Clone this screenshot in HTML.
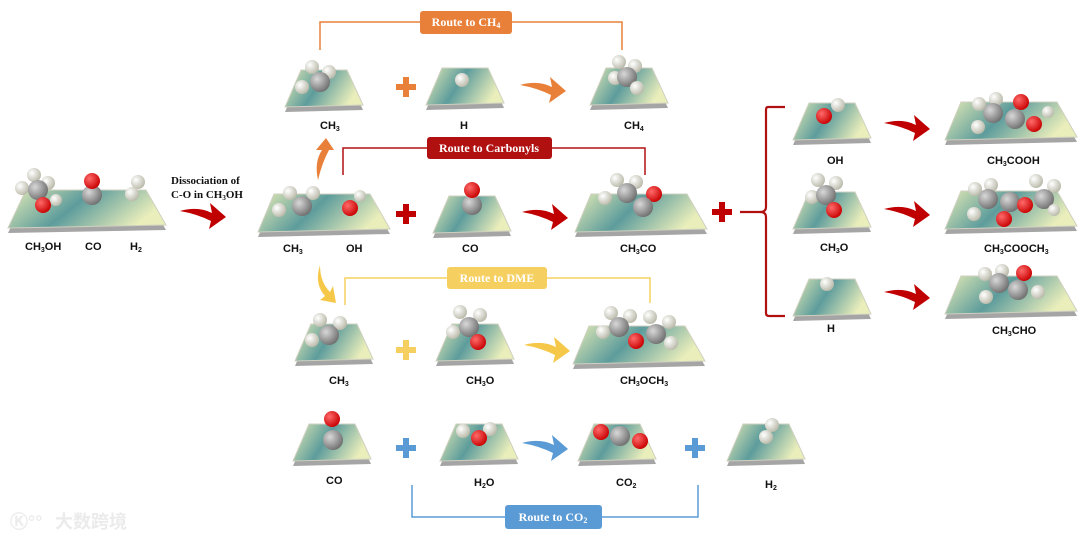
<!DOCTYPE html>
<html><head><meta charset="utf-8">
<style>
html,body{margin:0;padding:0;background:#fff;}
svg{display:block;}
text{font-family:"Liberation Sans",Arial,sans-serif;font-weight:bold;font-size:11px;fill:#111;}
.serif{font-family:"Liberation Serif","Times New Roman",serif;font-weight:bold;fill:#fff;font-size:12px;}
</style></head><body>
<svg width="1080" height="540" viewBox="0 0 1080 540" xmlns="http://www.w3.org/2000/svg">
<defs>
<linearGradient id="sg" x1="0" y1="0" x2="1" y2="0.3">
<stop offset="0" stop-color="#e6ecb6"/><stop offset="0.5" stop-color="#5d9c9c"/><stop offset="1" stop-color="#eaeebb"/>
</linearGradient>
<radialGradient id="gC" cx="0.35" cy="0.35" r="0.7"><stop offset="0" stop-color="#d8d8d8"/><stop offset="1" stop-color="#6e6e6e"/></radialGradient>
<radialGradient id="gH" cx="0.35" cy="0.35" r="0.7"><stop offset="0" stop-color="#ffffff"/><stop offset="1" stop-color="#b8b8a8"/></radialGradient>
<radialGradient id="gO" cx="0.35" cy="0.35" r="0.7"><stop offset="0" stop-color="#ff6a6a"/><stop offset="1" stop-color="#c80000"/></radialGradient>
<g id="ss">
<polygon points="16,5 62,5 78,40 0,42" fill="#a5a5a5"/>
<polygon points="16,0 62,0 78,35 0,37" fill="url(#sg)" stroke="#d0d0c0" stroke-width="1"/>
</g>
<g id="ws">
<polygon points="16,5 112,5 132,40 0,43" fill="#a5a5a5"/>
<polygon points="16,0 112,0 132,35 0,38" fill="url(#sg)" stroke="#d0d0c0" stroke-width="1"/>
</g>
<g id="wl">
<polygon points="18,5 138,5 158,40 0,43" fill="#a5a5a5"/>
<polygon points="18,0 138,0 158,35 0,38" fill="url(#sg)" stroke="#d0d0c0" stroke-width="1"/>
</g>
<path id="ar" d="M0,9 Q18,4 32,11 L30,1 L46,15 L29,27 L31,19 Q17,12 0,9 Z"/>
<path id="pl" d="M-3,-10 H3 V-3 H10 V3 H3 V10 H-3 V3 H-10 V-3 H-3 Z"/>
</defs>

<!-- Left start -->
<use href="#wl" x="8" y="190"/>
<circle cx="22" cy="188" r="7" fill="url(#gH)"/>
<circle cx="34" cy="175" r="7" fill="url(#gH)"/>
<circle cx="48" cy="183" r="7" fill="url(#gH)"/>
<circle cx="38" cy="190" r="10" fill="url(#gC)"/>
<circle cx="43" cy="205" r="8" fill="url(#gO)"/>
<circle cx="56" cy="200" r="6" fill="url(#gH)"/>
<circle cx="92" cy="195" r="10" fill="url(#gC)"/>
<circle cx="92" cy="181" r="8" fill="url(#gO)"/>
<circle cx="138" cy="182" r="7" fill="url(#gH)"/>
<circle cx="132" cy="194" r="7" fill="url(#gH)"/>
<text x="25" y="250">CH<tspan font-size="7" dy="2">3</tspan><tspan dy="-2">OH</tspan></text>
<text x="85" y="250">CO</text>
<text x="130" y="250">H<tspan font-size="7" dy="2">2</tspan></text>
<text class="serif" x="171" y="184" style="fill:#111;font-size:11px">Dissociation of</text>
<text class="serif" x="171" y="198" style="fill:#111;font-size:11px">C-O in CH<tspan font-size="7" dy="2">3</tspan><tspan dy="-2">OH</tspan></text>
<use href="#ar" x="180" y="202" fill="#c00000"/>

<!-- Middle CH3+OH -->
<use href="#ws" x="258" y="194"/>
<circle cx="279" cy="210" r="7" fill="url(#gH)"/>
<circle cx="290" cy="193" r="7" fill="url(#gH)"/>
<circle cx="313" cy="193" r="7" fill="url(#gH)"/>
<circle cx="302" cy="206" r="10" fill="url(#gC)"/>
<circle cx="350" cy="208" r="8" fill="url(#gO)"/>
<circle cx="360" cy="196" r="6" fill="url(#gH)"/>
<text x="283" y="252">CH<tspan font-size="7" dy="2">3</tspan></text>
<text x="346" y="252">OH</text>
<path d="M318,180 Q314,162 322,150 L316,150 L326,138 L334,150 L329,150 Q322,163 318,180 Z" fill="#e8803a"/>
<path d="M320,265 Q320,282 330,292 L333,286 L336,303 L320,300 L325,296 Q314,284 320,265 Z" fill="#f5c84a"/>

<use href="#pl" x="406" y="214" fill="#c00000"/>
<use href="#ss" x="433" y="196"/>
<circle cx="472" cy="205" r="10" fill="url(#gC)"/>
<circle cx="472" cy="190" r="8" fill="url(#gO)"/>
<text x="462" y="252">CO</text>
<use href="#ar" x="522" y="203" fill="#c00000"/>
<use href="#ws" x="575" y="194"/>
<circle cx="605" cy="198" r="7" fill="url(#gH)"/>
<circle cx="617" cy="180" r="7" fill="url(#gH)"/>
<circle cx="636" cy="182" r="7" fill="url(#gH)"/>
<circle cx="627" cy="193" r="10" fill="url(#gC)"/>
<circle cx="654" cy="194" r="8" fill="url(#gO)"/>
<circle cx="643" cy="207" r="10" fill="url(#gC)"/>
<text x="620" y="252">CH<tspan font-size="7" dy="2">3</tspan><tspan dy="-2">CO</tspan></text>
<use href="#pl" x="722" y="212" fill="#c00000"/>

<!-- Carbonyls route -->
<polyline points="343,175 343,148 645,148 645,175" fill="none" stroke="#b01010" stroke-width="1.5"/>
<rect x="427" y="137" width="125" height="22" rx="3" fill="#b01010"/>
<text class="serif" x="489" y="152" text-anchor="middle">Route to Carbonyls</text>

<!-- CH4 route -->
<polyline points="320,50 320,22 622,22 622,50" fill="none" stroke="#e8803a" stroke-width="1.5"/>
<rect x="420" y="11" width="92" height="23" rx="3" fill="#e8803a"/>
<text class="serif" x="466" y="26" text-anchor="middle">Route to CH<tspan font-size="8" dy="2">4</tspan></text>
<use href="#ss" x="285" y="70"/>
<circle cx="302" cy="87" r="7" fill="url(#gH)"/>
<circle cx="312" cy="67" r="7" fill="url(#gH)"/>
<circle cx="329" cy="72" r="7" fill="url(#gH)"/>
<circle cx="320" cy="82" r="10" fill="url(#gC)"/>
<text x="320" y="129">CH<tspan font-size="7" dy="2">3</tspan></text>
<use href="#pl" x="406" y="87" fill="#e8803a"/>
<use href="#ss" x="426" y="68"/>
<circle cx="462" cy="80" r="7" fill="url(#gH)"/>
<text x="460" y="129">H</text>
<use href="#ar" x="520" y="76" fill="#e8803a"/>
<use href="#ss" x="590" y="68"/>
<circle cx="615" cy="78" r="7" fill="url(#gH)"/>
<circle cx="619" cy="62" r="7" fill="url(#gH)"/>
<circle cx="635" cy="66" r="7" fill="url(#gH)"/>
<circle cx="627" cy="77" r="10" fill="url(#gC)"/>
<circle cx="637" cy="88" r="7" fill="url(#gH)"/>
<text x="624" y="129">CH<tspan font-size="7" dy="2">4</tspan></text>

<!-- DME route -->
<polyline points="345,305 345,278 650,278 650,303" fill="none" stroke="#f5d060" stroke-width="1.5"/>
<rect x="447" y="267" width="100" height="22" rx="3" fill="#f5d060"/>
<text class="serif" x="497" y="282" text-anchor="middle">Route to DME</text>
<use href="#ss" x="295" y="324"/>
<circle cx="312" cy="340" r="7" fill="url(#gH)"/>
<circle cx="320" cy="320" r="7" fill="url(#gH)"/>
<circle cx="340" cy="323" r="7" fill="url(#gH)"/>
<circle cx="329" cy="335" r="10" fill="url(#gC)"/>
<text x="329" y="384">CH<tspan font-size="7" dy="2">3</tspan></text>
<use href="#pl" x="406" y="350" fill="#f5d060"/>
<use href="#ss" x="436" y="324"/>
<circle cx="453" cy="332" r="7" fill="url(#gH)"/>
<circle cx="460" cy="312" r="7" fill="url(#gH)"/>
<circle cx="480" cy="315" r="7" fill="url(#gH)"/>
<circle cx="469" cy="327" r="10" fill="url(#gC)"/>
<circle cx="478" cy="342" r="8" fill="url(#gO)"/>
<text x="466" y="384">CH<tspan font-size="7" dy="2">3</tspan><tspan dy="-2">O</tspan></text>
<use href="#ar" x="524" y="336" fill="#f5c84a"/>
<use href="#ws" x="573" y="326"/>
<circle cx="603" cy="332" r="7" fill="url(#gH)"/>
<circle cx="611" cy="313" r="7" fill="url(#gH)"/>
<circle cx="630" cy="316" r="7" fill="url(#gH)"/>
<circle cx="619" cy="327" r="10" fill="url(#gC)"/>
<circle cx="636" cy="341" r="8" fill="url(#gO)"/>
<circle cx="650" cy="317" r="7" fill="url(#gH)"/>
<circle cx="669" cy="322" r="7" fill="url(#gH)"/>
<circle cx="656" cy="334" r="10" fill="url(#gC)"/>
<circle cx="671" cy="343" r="7" fill="url(#gH)"/>
<text x="620" y="384">CH<tspan font-size="7" dy="2">3</tspan><tspan dy="-2">OCH</tspan><tspan font-size="7" dy="2">3</tspan></text>

<!-- CO2 route -->
<use href="#ss" x="293" y="424"/>
<circle cx="333" cy="440" r="10" fill="url(#gC)"/>
<circle cx="332" cy="419" r="8" fill="url(#gO)"/>
<text x="326" y="484">CO</text>
<use href="#pl" x="406" y="448" fill="#5b9bd5"/>
<use href="#ss" x="440" y="424"/>
<circle cx="463" cy="431" r="7" fill="url(#gH)"/>
<circle cx="490" cy="429" r="7" fill="url(#gH)"/>
<circle cx="479" cy="438" r="8" fill="url(#gO)"/>
<text x="474" y="486">H<tspan font-size="7" dy="2">2</tspan><tspan dy="-2">O</tspan></text>
<use href="#ar" x="522" y="434" fill="#5b9bd5"/>
<use href="#ss" x="578" y="424"/>
<circle cx="601" cy="432" r="8" fill="url(#gO)"/>
<circle cx="620" cy="436" r="10" fill="url(#gC)"/>
<circle cx="640" cy="441" r="8" fill="url(#gO)"/>
<text x="616" y="486">CO<tspan font-size="7" dy="2">2</tspan></text>
<use href="#pl" x="695" y="448" fill="#5b9bd5"/>
<use href="#ss" x="727" y="424"/>
<circle cx="772" cy="425" r="7" fill="url(#gH)"/>
<circle cx="766" cy="437" r="7" fill="url(#gH)"/>
<text x="765" y="488">H<tspan font-size="7" dy="2">2</tspan></text>
<polyline points="412,485 412,517 698,517 698,485" fill="none" stroke="#5b9bd5" stroke-width="1.5"/>
<rect x="505" y="505" width="97" height="24" rx="3" fill="#5b9bd5"/>
<text class="serif" x="553" y="521" text-anchor="middle">Route to CO<tspan font-size="8" dy="2">2</tspan></text>

<!-- bracket -->
<path d="M785,107 L768,107 Q766,107 766,110 L766,207 Q766,212 760,212 L740,212 M760,212 Q766,212 766,217 L766,313 Q766,316 769,316 L785,316" fill="none" stroke="#b01010" stroke-width="2.2"/>

<!-- right column -->
<use href="#ss" x="793" y="103"/>
<circle cx="838" cy="105" r="7" fill="url(#gH)"/>
<circle cx="824" cy="116" r="8" fill="url(#gO)"/>
<text x="827" y="164">OH</text>
<use href="#ss" x="793" y="192"/>
<circle cx="812" cy="197" r="7" fill="url(#gH)"/>
<circle cx="818" cy="180" r="7" fill="url(#gH)"/>
<circle cx="836" cy="183" r="7" fill="url(#gH)"/>
<circle cx="826" cy="195" r="10" fill="url(#gC)"/>
<circle cx="834" cy="210" r="8" fill="url(#gO)"/>
<text x="820" y="251">CH<tspan font-size="7" dy="2">3</tspan><tspan dy="-2">O</tspan></text>
<use href="#ss" x="793" y="279"/>
<circle cx="827" cy="284" r="7" fill="url(#gH)"/>
<text x="827" y="332">H</text>

<use href="#ar" x="884" y="114" fill="#c00000"/>
<use href="#ar" x="884" y="200" fill="#c00000"/>
<use href="#ar" x="884" y="283" fill="#c00000"/>

<use href="#ws" x="945" y="102"/>
<circle cx="979" cy="104" r="7" fill="url(#gH)"/>
<circle cx="996" cy="99" r="7" fill="url(#gH)"/>
<circle cx="978" cy="127" r="7" fill="url(#gH)"/>
<circle cx="993" cy="113" r="10" fill="url(#gC)"/>
<circle cx="1021" cy="102" r="8" fill="url(#gO)"/>
<circle cx="1015" cy="119" r="10" fill="url(#gC)"/>
<circle cx="1048" cy="112" r="6" fill="url(#gH)"/>
<circle cx="1034" cy="124" r="8" fill="url(#gO)"/>
<text x="987" y="164">CH<tspan font-size="7" dy="2">3</tspan><tspan dy="-2">COOH</tspan></text>

<use href="#ws" x="945" y="191"/>
<circle cx="975" cy="189" r="7" fill="url(#gH)"/>
<circle cx="991" cy="185" r="7" fill="url(#gH)"/>
<circle cx="974" cy="214" r="7" fill="url(#gH)"/>
<circle cx="988" cy="199" r="10" fill="url(#gC)"/>
<circle cx="1010" cy="202" r="10" fill="url(#gC)"/>
<circle cx="1004" cy="219" r="8" fill="url(#gO)"/>
<circle cx="1025" cy="205" r="8" fill="url(#gO)"/>
<circle cx="1036" cy="181" r="7" fill="url(#gH)"/>
<circle cx="1054" cy="186" r="7" fill="url(#gH)"/>
<circle cx="1044" cy="199" r="10" fill="url(#gC)"/>
<circle cx="1054" cy="210" r="6" fill="url(#gH)"/>
<text x="984" y="252">CH<tspan font-size="7" dy="2">3</tspan><tspan dy="-2">COOCH</tspan><tspan font-size="7" dy="2">3</tspan></text>

<use href="#ws" x="945" y="276"/>
<circle cx="985" cy="274" r="7" fill="url(#gH)"/>
<circle cx="1002" cy="271" r="7" fill="url(#gH)"/>
<circle cx="986" cy="297" r="7" fill="url(#gH)"/>
<circle cx="999" cy="283" r="10" fill="url(#gC)"/>
<circle cx="1024" cy="273" r="8" fill="url(#gO)"/>
<circle cx="1018" cy="290" r="10" fill="url(#gC)"/>
<circle cx="1038" cy="292" r="7" fill="url(#gH)"/>
<text x="992" y="334">CH<tspan font-size="7" dy="2">3</tspan><tspan dy="-2">CHO</tspan></text>

<!-- watermark -->
<text x="10" y="528" style="font-size:18px;fill:#ececec;font-family:'Liberation Sans',sans-serif">Ⓚ°°</text>
<text x="55" y="528" style="font-size:18px;fill:#ebebeb;font-family:'Liberation Sans','Noto Sans CJK SC',sans-serif">大数跨境</text>
</svg>
</body></html>
